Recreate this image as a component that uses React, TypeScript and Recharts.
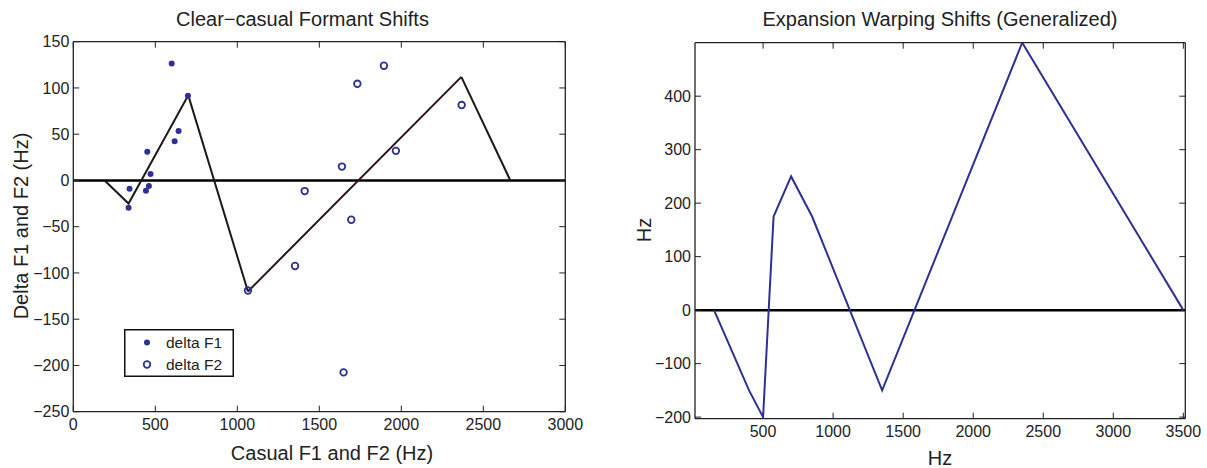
import React from 'react';
import { ScatterChart, Scatter, XAxis, YAxis, ReferenceLine, Legend } from 'recharts';

// ---- Left panel data ----
const f1Hz = [337, 343, 443, 451, 461, 471, 600, 618, 642, 699];
const f1Delta = [-29.5, -9, -11, 31, -6, 7, 126.5, 42.5, 53.5, 91.5];
const f2Hz = [1065, 1352, 1411, 1638, 1648, 1695, 1732, 1894, 1967, 2368];
const f2Delta = [-119, -92.5, -11.5, 15, -207.5, -42.5, 104.5, 124, 32, 81.5];
const fitHz = [191, 337, 701, 1065, 2366, 2665];
const fitDelta = [0, -25, 92, -120, 112, 0];
const leftXTicks = [0, 500, 1000, 1500, 2000, 2500, 3000];
const leftYTicks = [-250, -200, -150, -100, -50, 0, 50, 100, 150];

// ---- Right panel data ----
const warpHz = [150, 400, 500, 575, 700, 850, 1350, 2350, 3500];
const warpShift = [0, -150, -200, 175, 250, 175, -150, 500, 0];
const rightXTicks = [500, 1000, 1500, 2000, 2500, 3000, 3500];
const rightYTicks = [-200, -100, 0, 100, 200, 300, 400];

const zip = (xs: number[], ys: number[]) => xs.map((x, i) => ({ x, y: ys[i] }));
const f1Data = zip(f1Hz, f1Delta);
const f2Data = zip(f2Hz, f2Delta);
const fitData = zip(fitHz, fitDelta);
const fitA = fitData.slice(0, 4);
const fitB = fitData.slice(3, 5);
const fitC = fitData.slice(4, 6);
const warpData = zip(warpHz, warpShift);

const FONT = '"Liberation Sans", Arial, Helvetica, sans-serif';
const BLUE = '#2e3192';
const AX = '#222';
const tickStyle = { fontSize: 16, fill: '#222', fontFamily: FONT };
const blankFmt = () => '';
const minusFmt = (v: number) => String(v).replace('-', '\u2212');

const Dot = (p: any) => <circle cx={p.cx} cy={p.cy} r={3} fill={BLUE} />;
const Ring = (p: any) => <circle cx={p.cx} cy={p.cy} r={3.3} fill="none" stroke={BLUE} strokeWidth={1.8} />;
const NoShape = () => <g />;

const legendItems = [
  { name: 'delta F1', filled: true },
  { name: 'delta F2', filled: false },
];

const LegendBox = () => (
  <svg width={110} height={48} style={{ display: 'block' }}>
    <rect x={0.75} y={0.75} width={108.5} height={46.5} fill="#fff" stroke="#111" strokeWidth={1.5} />
    {legendItems.map((it, i) => (
      <g key={it.name}>
        {it.filled ? (
          <circle cx={23} cy={13.5 + i * 22} r={3} fill={BLUE} />
        ) : (
          <circle cx={23} cy={13.5 + i * 22} r={3.3} fill="none" stroke={BLUE} strokeWidth={1.8} />
        )}
        <text x={42} y={19 + i * 22} fontSize={15.5} fontFamily={FONT} fill="#222">
          {it.name}
        </text>
      </g>
    ))}
  </svg>
);

const axisLine = { stroke: AX, strokeWidth: 1.3 };
const tickLine = { stroke: AX, strokeWidth: 1 };

export default function App() {
  return (
    <div style={{ position: 'absolute', left: 0, top: 0, width: 1207, height: 468, background: '#fff', fontFamily: FONT }}>
      <div style={{ position: 'absolute', left: 0, top: 0 }}>
        <ScatterChart width={600} height={468} margin={{ top: 40.7, right: 33.7, bottom: 26.3, left: 13.3 }}>
          <XAxis xAxisId={0} type="number" dataKey="x" domain={[0, 3000]} ticks={leftXTicks} allowDataOverflow
            orientation="bottom" height={30} tickSize={-6} tickMargin={13} tick={tickStyle} tickFormatter={minusFmt} axisLine={axisLine} tickLine={tickLine} interval={0} />
          <XAxis xAxisId="top" type="number" dataKey="x" domain={[0, 3000]} ticks={leftXTicks} allowDataOverflow
            orientation="top" height={1} tickSize={-6} tickFormatter={blankFmt} axisLine={axisLine} tickLine={tickLine} interval={0} />
          <YAxis yAxisId={0} type="number" dataKey="y" domain={[-250, 150]} ticks={leftYTicks} allowDataOverflow
            orientation="left" width={60} tickSize={-6} tickMargin={10} tick={tickStyle} tickFormatter={minusFmt} axisLine={axisLine} tickLine={tickLine} interval={0} />
          <YAxis yAxisId="right" type="number" dataKey="y" domain={[-250, 150]} ticks={leftYTicks} allowDataOverflow
            orientation="right" width={1} tickSize={-6} tickFormatter={blankFmt} axisLine={axisLine} tickLine={tickLine} interval={0} />
          <ReferenceLine y={0} stroke="#000" strokeWidth={2.5} ifOverflow="hidden" />
          <Scatter data={fitA} line={{ stroke: '#1a1a1a', strokeWidth: 2 }} shape={NoShape} isAnimationActive={false} legendType="none" />
          <Scatter data={fitB} line={{ stroke: '#2a1414', strokeWidth: 2 }} shape={NoShape} isAnimationActive={false} legendType="none" />
          <Scatter data={fitC} line={{ stroke: '#1a1a1a', strokeWidth: 2 }} shape={NoShape} isAnimationActive={false} legendType="none" />
          <Scatter name="delta F1" data={f1Data} shape={Dot} isAnimationActive={false} />
          <Scatter name="delta F2" data={f2Data} shape={Ring} isAnimationActive={false} />
          <Legend layout="vertical" align="center" verticalAlign="middle" content={LegendBox}
            wrapperStyle={{ position: 'absolute', left: 124, top: 329, width: 110, height: 48 }} />
        </ScatterChart>
      </div>
      <div style={{ position: 'absolute', left: 620, top: 0 }}>
        <ScatterChart width={587} height={468} margin={{ top: 41.7, right: 20.7, bottom: 19.3, left: 15 }}>
          <XAxis xAxisId={0} type="number" dataKey="x" domain={[14, 3514]} ticks={rightXTicks} allowDataOverflow
            orientation="bottom" height={30} tickSize={-6} tickMargin={13} tick={tickStyle} tickFormatter={minusFmt} axisLine={axisLine} tickLine={tickLine} interval={0} />
          <XAxis xAxisId="top" type="number" dataKey="x" domain={[14, 3514]} ticks={rightXTicks} allowDataOverflow
            orientation="top" height={1} tickSize={-6} tickFormatter={blankFmt} axisLine={axisLine} tickLine={tickLine} interval={0} />
          <YAxis yAxisId={0} type="number" dataKey="y" domain={[-203, 500]} ticks={rightYTicks} allowDataOverflow
            orientation="left" width={60} tickSize={-6} tickMargin={10} tick={tickStyle} tickFormatter={minusFmt} axisLine={axisLine} tickLine={tickLine} interval={0} />
          <YAxis yAxisId="right" type="number" dataKey="y" domain={[-203, 500]} ticks={rightYTicks} allowDataOverflow
            orientation="right" width={1} tickSize={-6} tickFormatter={blankFmt} axisLine={axisLine} tickLine={tickLine} interval={0} />
          <ReferenceLine y={0} stroke="#000" strokeWidth={2.5} ifOverflow="hidden" />
          <Scatter data={warpData} line={{ stroke: BLUE, strokeWidth: 2 }} shape={NoShape} isAnimationActive={false} />
        </ScatterChart>
      </div>
      <svg width={1207} height={468} style={{ position: 'absolute', left: 0, top: 0, pointerEvents: 'none' }}>
        <g fontFamily={FONT} fill="#222" fontSize={20}>
          <text x={176} y={26} textAnchor="start">Clear−casual Formant Shifts</text>
          <text x={940} y={26} textAnchor="middle">Expansion Warping Shifts (Generalized)</text>
          <text x={332} y={460} textAnchor="middle">Casual F1 and F2 (Hz)</text>
          <text x={940} y={465} textAnchor="middle">Hz</text>
          <text x={28} y={226} textAnchor="middle" transform="rotate(-90 28 226)">Delta F1 and F2 (Hz)</text>
          <text x={651} y={230} textAnchor="middle" transform="rotate(-90 651 230)">Hz</text>
        </g>
      </svg>
    </div>
  );
}
